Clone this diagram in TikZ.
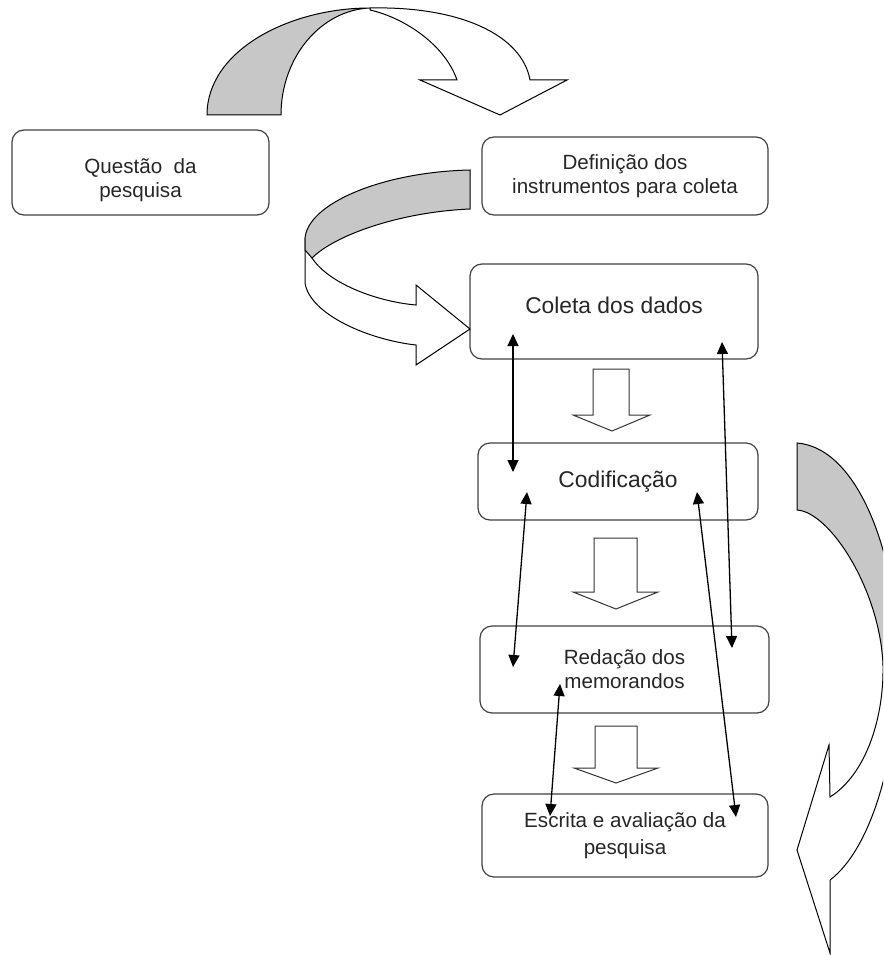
\documentclass[tikz,border=0pt]{standalone}
\usepackage{fontspec}
\setmainfont{Liberation Sans}
\usetikzlibrary{arrows.meta}

\begin{document}
\begin{tikzpicture}[x=1pt,y=-1pt,
	caixa/.style={draw=black!75, line width=1.2pt, rounded corners=12pt, align=center, text=black!85, inner sep=0pt},
	letra/.style={font=\fontsize{20.6}{24}\selectfont},
	letrag/.style={font=\fontsize{22.8}{26}\selectfont},
	dupla/.style={{Triangle[length=12pt,width=11pt]}-{Triangle[length=12pt,width=11pt]}, line width=1.3pt},
	bloco/.style={draw=black!80, line width=1pt, fill=white},
	curva/.style={draw=black, line width=1pt, fill=white},
	sombra/.style={draw=black, line width=1pt, fill=black!22}]
	\useasboundingbox (0,0) rectangle (883,955);
	\node[caixa, letra, minimum width=257, minimum height=85] (questao) at (140.5,172.5) {\rule{0pt}{30pt}Questão\ \ da\\pesquisa};
	\node[caixa, letra, minimum width=286, minimum height=78] (definicao) at (625,176) {Definição dos\\instrumentos para coleta};
	\node[caixa, letrag, minimum width=288, minimum height=95, text depth=13pt] (coleta) at (614,311.5) {Coleta dos dados};
	\node[caixa, letrag, minimum width=280, minimum height=77] (codificacao) at (618,481.5) {Codificação};
	\node[caixa, letra, minimum width=289, minimum height=87] (redacao) at (624.5,669.5) {Redação dos\\memorandos};
	\node[caixa, font=\fontsize{20.6}{27}\selectfont, minimum width=286, minimum height=83] (escrita) at (625,835.5) {Escrita e avaliação da\\pesquisa};
	% setas curvas
	\path[curva] (370,8) .. controls (460,6) and (522,35) .. (530,80) -- (567,80) -- (500,115) -- (420,80) -- (457,80) .. controls (445,45) and (405,18) .. (370,10) -- cycle;
	\path[sombra] (207,115) .. controls (207,50) and (290,8) .. (370,8) .. controls (321,10) and (281,57) .. (281,115) -- cycle;
	\path[curva] (305,240) -- (305,283) .. controls (310,315) and (370,340) .. (416,345) -- (416,365) -- (470,329) -- (416,285) -- (416,305) .. controls (380,302) and (330,285) .. (312,258) -- cycle;
	\path[sombra] (470,170) .. controls (380,172) and (305,205) .. (305,240) -- (305,250) -- (312,258) .. controls (335,235) and (400,212) .. (470,209) -- cycle;
	\begin{scope}
		\clip (0,0) rectangle (883,955);
		\path[curva] (883,665) -- (898,660) .. controls (898,760) and (870,850) .. (830,880) -- (830,953) -- (797,850) -- (829,745) -- (830,797) .. controls (865,775) and (884,720) .. (883,665) -- cycle;
		\path[sombra] (797,443) .. controls (860,448) and (898,560) .. (898,660) -- (883,665) .. controls (880,590) and (830,512) .. (797,510) -- cycle;
	\end{scope}
	% setas de bloco
	\foreach \xa/\xb/\xc/\xd/\xp/\ya/\yb/\yp in {593/629/573/650/612/369/415/431, 594/637/573/658/616/538/592/609, 595/637/574/658/616/726/768/783}
		\path[bloco] (\xa,\ya) -- (\xb,\ya) -- (\xb,\yb) -- (\xd,\yb) -- (\xp,\yp) -- (\xc,\yb) -- (\xa,\yb) -- cycle;
	% setas duplas
	\coordinate (a1) at (513,334);
	\coordinate (a2) at (513,472);
	\coordinate (b1) at (722,342);
	\coordinate (b2) at (732,648);
	\coordinate (c1) at (527,492);
	\coordinate (c2) at (513,667);
	\coordinate (d1) at (697,492);
	\coordinate (d2) at (736,817);
	\coordinate (e1) at (560,684);
	\coordinate (e2) at (550,816);
	\draw[dupla] (a1) -- (a2);
	\draw[dupla] (b1) -- (b2);
	\draw[dupla] (c1) -- (c2);
	\draw[dupla] (d1) -- (d2);
	\draw[dupla] (e1) -- (e2);
\end{tikzpicture}
\end{document}
